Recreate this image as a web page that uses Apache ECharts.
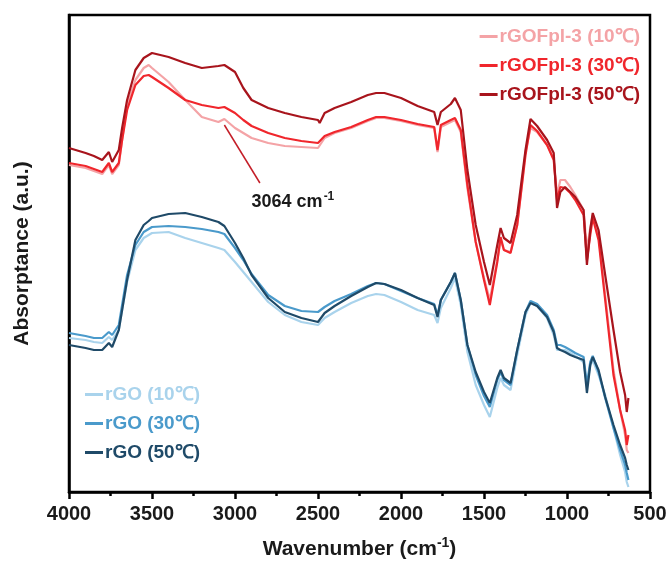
<!DOCTYPE html>
<html>
<head>
<meta charset="utf-8">
<script src="https://cdn.jsdelivr.net/npm/echarts@6/dist/echarts.min.js"></script>
<style>
html,body{margin:0;padding:0;background:#fff;}
#chart{width:671px;height:575px;}
</style>
</head>
<body>
<div id="chart"></div>
<script>
// Wavenumbers (cm-1)
const wavenumbers = [4000,3900,3850,3800,3760,3740,3700,3680,3650,3600,
  3550,3520,3500,3400,3300,3200,3100,3064,3000,2950,
  2900,2800,2700,2600,2500,2490,2460,2400,2300,2200,
  2150,2100,2000,1900,1800,1780,1760,1700,1675,1640,
  1600,1550,1500,1465,1420,1400,1380,1340,1300,1250,
  1220,1180,1120,1080,1060,1040,1012,980,950,900,
  880,860,845,810,770,720,680,650,640,630];

const xTicks = [4000,3500,3000,2500,2000,1500,1000,500];

// Absorptance (a.u.)
const rGOFpl3_10 = [327,324,321,318,327,318,327,352,387,412,
  424,427,424,410,392,375,370,373,364,359,
  354,349,346,345,344,342,354,359,364,371,
  374,374,371,367,364,340,365,370,372,360,
  304,250,214,192,232,252,242,240,267,340,
  364,360,347,334,297,312,312,305,297,282,
  242,264,277,257,197,122,82,57,42,39];
const rGOFpl3_30 = [329,326,323,320,329,320,329,352,382,407,
  416,417,415,404,392,387,384,385,379,372,
  366,359,354,351,349,347,356,360,365,372,
  375,375,372,368,365,342,367,372,374,362,
  307,250,212,187,230,255,242,239,267,337,
  367,361,347,332,292,305,304,299,292,277,
  232,257,274,252,192,117,82,62,47,57];
const rGOFpl3_50 = [344,339,336,332,340,330,342,364,392,422,
  434,437,439,435,429,424,426,427,420,404,
  392,384,379,375,372,369,379,384,390,397,
  399,399,394,386,380,367,380,388,394,382,
  322,267,230,207,247,264,254,249,277,342,
  373,366,352,339,284,300,305,300,295,282,
  227,262,279,262,217,162,120,97,80,94];
const rGO_10 = [154,152,150,149,155,152,162,182,210,242,
  254,257,259,260,254,249,244,242,230,220,
  210,190,177,170,167,166,174,180,189,196,
  198,197,190,182,177,169,184,204,214,187,
  140,107,87,75,104,114,107,102,137,177,
  189,186,174,157,142,142,142,139,136,130,
  107,126,132,117,97,64,37,20,10,5];
const rGO_30 = [159,156,154,154,160,157,167,187,217,247,
  260,263,265,266,265,263,260,258,244,232,
  218,197,186,181,180,178,185,191,198,206,
  209,208,201,194,188,177,192,210,219,192,
  147,117,96,85,112,120,112,107,142,180,
  191,188,177,162,147,147,145,142,139,135,
  107,130,136,120,94,64,42,27,19,12];
const rGO_50 = [147,144,142,142,149,145,162,182,212,252,
  267,271,274,278,279,275,270,266,249,234,
  217,194,180,174,170,170,179,186,196,205,
  209,208,202,194,187,175,192,210,219,192,
  147,120,100,89,114,122,114,109,142,180,
  189,186,175,160,144,142,140,137,135,132,
  99,127,135,122,95,67,47,34,27,22];

const seriesNames = ['rGOFpl-3 (10℃)','rGOFpl-3 (30℃)','rGOFpl-3 (50℃)','rGO (10℃)','rGO (30℃)','rGO (50℃)'];
const seriesColors = ['#f4a3a6','#f0262c','#a8141c','#a9d3ec','#4a9acb','#1f4a68'];
const seriesValues = [rGOFpl3_10, rGOFpl3_30, rGOFpl3_50, rGO_10, rGO_30, rGO_50];

// annotation
const annotArrow = [[3064, 367], [2850, 309]];
const annotLabelPos = [2651, 290];

const FONT = '"Liberation Sans", Arial, sans-serif';

const chart = echarts.init(document.getElementById('chart'), null, {renderer: 'canvas'});

const series = seriesNames.map((name, i) => ({
  name: name,
  type: 'line',
  data: wavenumbers.map((w, j) => [w, seriesValues[i][j]]),
  showSymbol: false,
  symbol: 'none',
  lineStyle: {color: seriesColors[i], width: 2.2},
  itemStyle: {color: seriesColors[i]},
  z: 2,
  animation: false
}));

series.push({
  name: 'annot',
  type: 'line',
  data: [],
  markLine: {
    silent: true,
    symbol: ['none', 'arrow'],
    symbolSize: [0, 11],
    lineStyle: {color: '#c41e28', width: 1.5, type: 'solid'},
    label: {show: false},
    data: [[{coord: annotArrow[0]}, {coord: annotArrow[1]}]],
    animation: false
  },
  markPoint: {
    silent: true,
    symbol: 'circle',
    symbolSize: 0,
    data: [{coord: annotLabelPos}],
    label: {
      show: true,
      position: 'inside',
      formatter: '3064 cm{sup|-1}',
      color: '#1a1a1a',
      fontFamily: FONT,
      fontWeight: 'bold',
      fontSize: 18,
      rich: {sup: {fontSize: 12, fontWeight: 'bold', fontFamily: FONT, color: '#1a1a1a', verticalAlign: 'top', padding: [0,0,10,1]}}
    },
    animation: false
  }
});

chart.setOption({
  animation: false,
  backgroundColor: '#fff',
  grid: {left: 69, right: 21, top: 15, bottom: 83, show: true, borderColor: '#000', borderWidth: 2.5, backgroundColor: 'transparent'},
  legend: [
    {
      data: seriesNames.slice(0,3).map((n,i) => ({name: n, textStyle: {color: seriesColors[i]}})),
      orient: 'vertical', right: 26, top: 22, align: 'left',
      icon: 'rect', itemWidth: 18, itemHeight: 3, itemGap: 10,
      textStyle: {fontFamily: FONT, fontWeight: 'bold', fontSize: 19, padding: [0,0,0,-3]},
      selectedMode: false
    },
    {
      data: seriesNames.slice(3).map((n,i) => ({name: n, textStyle: {color: seriesColors[i+3]}})),
      orient: 'vertical', left: 80, top: 380, align: 'left',
      icon: 'rect', itemWidth: 18, itemHeight: 3, itemGap: 10,
      textStyle: {fontFamily: FONT, fontWeight: 'bold', fontSize: 19, padding: [0,0,0,-3]},
      selectedMode: false
    }
  ],
  xAxis: {
    type: 'value', min: 500, max: 4000, interval: 500, inverse: true,
    name: 'Wavenumber (cm{sup|-1})',
    nameLocation: 'middle', nameGap: 44,
    nameTextStyle: {fontFamily: FONT, fontWeight: 'bold', fontSize: 21, color: '#1a1a1a',
      rich: {sup: {fontFamily: FONT, fontWeight: 'bold', fontSize: 14, color: '#1a1a1a', verticalAlign: 'top', padding: [0,0,12,0]}}},
    axisLine: {show: true, lineStyle: {color: '#000', width: 2.5}},
    axisTick: {show: true, inside: false, length: 7, lineStyle: {color: '#000', width: 2.5}},
    minorTick: {show: true, splitNumber: 2, length: 4, lineStyle: {color: '#000', width: 2.5}},
    axisLabel: {show: true, margin: 12, fontFamily: FONT, fontWeight: 'bold', fontSize: 20, color: '#1a1a1a',
      customValues: xTicks, formatter: function (v) { return String(v); }},
    splitLine: {show: false},
    minorSplitLine: {show: false}
  },
  yAxis: {
    type: 'value', min: 0, max: 477,
    name: 'Absorptance (a.u.)', nameLocation: 'middle', nameGap: 36, nameRotate: 90,
    nameTextStyle: {fontFamily: FONT, fontWeight: 'bold', fontSize: 21, color: '#1a1a1a'},
    axisLine: {show: true, lineStyle: {color: '#000', width: 2.5}},
    axisTick: {show: false},
    axisLabel: {show: false},
    splitLine: {show: false}
  },
  series: series
});
</script>
</body>
</html>
